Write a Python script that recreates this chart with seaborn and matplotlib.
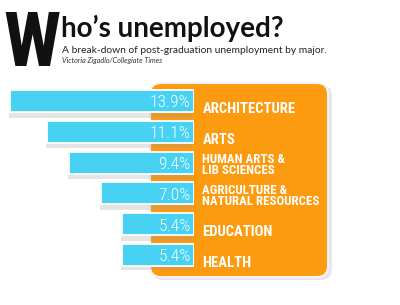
import matplotlib
matplotlib.use("Agg")
import matplotlib.pyplot as plt
import matplotlib.patheffects as pe
from matplotlib.patches import FancyBboxPatch
import seaborn as sns
import pandas as pd

# ---- data ----
categories = ["ARCHITECTURE", "ARTS", "HUMAN ARTS &\nLIB SCIENCES",
              "AGRICULTURE &\nNATURAL RESOURCES", "EDUCATION", "HEALTH"]
values = [13.9, 11.1, 9.4, 7.0, 5.4, 5.4]
value_labels = ["13.9%", "11.1%", "9.4%", "7.0%", "5.4%", "5.4%"]
title_big = "W"
title_rest = "ho\u2019s unemployed?"
subtitle = "A break-down of post-graduation unemployment by major."
credit = "Victoria Zigadlo/Collegiate Times"

CYAN = "#47D2F4"
ORANGE = "#FD9B10"

sns.set_theme(style="white")
plt.rcParams["font.family"] = ["Lato", "DejaVu Sans"]
NARROW = ["Roboto Condensed", "Lato", "DejaVu Sans"]

fig = plt.figure(figsize=(4.0, 3.05), dpi=100)
fig.patch.set_facecolor("white")

# background axes in pixel coordinates
bg = fig.add_axes([0, 0, 1, 1])
bg.set_xlim(0, 400)
bg.set_ylim(305, 0)
bg.axis("off")

# orange panel with shadow
shadow = FancyBboxPatch((152, 85), 180, 195, boxstyle="round,pad=0,rounding_size=11",
                        facecolor="#c4c4c4", edgecolor="none", alpha=0.4, zorder=1)
bg.add_patch(shadow)
panel = FancyBboxPatch((150, 83), 178, 194, boxstyle="round,pad=0,rounding_size=11",
                       facecolor=ORANGE, edgecolor="#F4F4F4", linewidth=1.5, zorder=2)
bg.add_patch(panel)

# titles
bg.text(3, 65.5, title_big, fontsize=55, fontweight="black", color="#111111",
        va="baseline", ha="left", zorder=3, family=NARROW)
bg.text(61, 37, title_rest, fontsize=20, fontweight="bold", color="#111111",
        va="baseline", ha="left", zorder=3)
bg.text(62, 53, subtitle, fontsize=7.4, color="#222222", va="baseline", ha="left", zorder=3)
bg.text(62, 63.5, credit, fontsize=5.2, style="italic", color="#333333",
        va="baseline", ha="left", zorder=3)

# bar axes
ax = fig.add_axes([0, 35 / 305, 193.5 / 400, 185 / 305])
ax.patch.set_alpha(0)
df = pd.DataFrame({"major": categories, "rate": values})
sns.barplot(data=df, x="rate", y="major", orient="h", color=CYAN, saturation=1,
            width=0.72, edgecolor="white", linewidth=1.3, ax=ax)
ax.set_xlim(14.66, 0)
ax.set_ylim(5.487, -0.519)
ax.axis("off")

for p in ax.patches:
    p.set_path_effects([pe.SimplePatchShadow(offset=(-1, -4), shadow_rgbFace="#999999", alpha=0.25),
                        pe.Normal()])

for i, (cat, lab) in enumerate(zip(categories, value_labels)):
    ax.annotate(lab, xy=(0, i), xytext=(-3, -6.5), textcoords="offset pixels",
                ha="right", va="baseline", fontsize=12.5, fontweight="light", color="white",
                family=NARROW, annotation_clip=False)
    multi = "\n" in cat
    ax.annotate(cat, xy=(0, i), xytext=(9, -11.5 if multi else -12), textcoords="offset pixels",
                ha="left", va="baseline", fontsize=9.3 if multi else 10.5,
                fontweight="bold", color="white",
                linespacing=0.78, family=NARROW, annotation_clip=False)

fig.savefig("out.png", dpi=100, facecolor="white")
